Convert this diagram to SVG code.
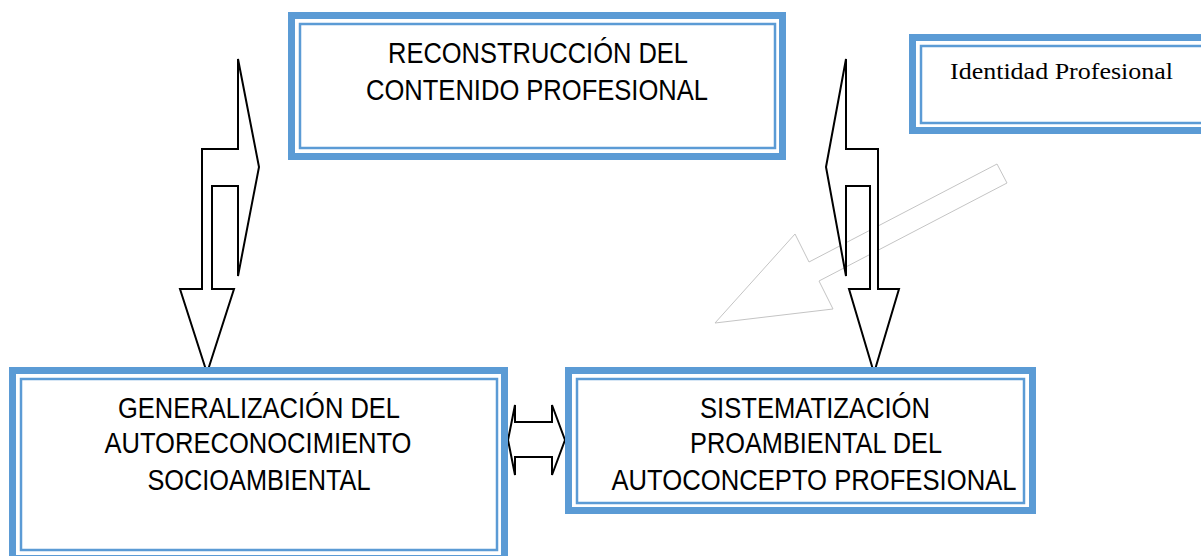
<svg xmlns="http://www.w3.org/2000/svg" width="1201" height="556" viewBox="0 0 1201 556">
<style>
.outer{fill:#fff;stroke:#5b9bd5;stroke-width:7}
.inner{fill:none;stroke:#5b9bd5;stroke-width:2.5}
.lbl{font-family:"Liberation Sans",Arial,sans-serif;font-size:29px;fill:#000;text-anchor:middle}
.serif{font-family:"Liberation Serif","Times New Roman",serif;font-size:23px;fill:#000}
.arr{fill:#fff;stroke:#000;stroke-width:2;stroke-linejoin:miter}
.garr{fill:none;stroke:#c4c4c4;stroke-width:1}
</style>
<rect width="1201" height="556" fill="#fff"/>
<g id="connectors">
<polygon class="garr" points="997,164 809,262 795,234 715,323 833,309 819,281 1007,183"/>
<polygon class="arr" points="238,59 238,149 202,149 202,289 180,289 207,373 234,289 212,289 212,186 238,186 238,276 259,167"/>
<polygon class="arr" points="846,59 846,149 878,149 878,289 899,289 874,373 849,289 870,289 870,186 846,186 846,276 826,167"/>
<polygon class="arr" points="508,440 515,405 515,422 552,422 552,405 565,440 552,475 552,457 515,457 515,475"/>
</g>
<g id="n-reconstruccion">
<rect class="outer" x="291.5" y="15.5" width="491" height="141"/>
<rect class="inner" x="300" y="24" width="475" height="124"/>
<text class="lbl" x="538" y="63" textLength="300" lengthAdjust="spacingAndGlyphs">RECONSTRUCCIÓN DEL</text>
<text class="lbl" x="537" y="100" textLength="342" lengthAdjust="spacingAndGlyphs">CONTENIDO PROFESIONAL</text>
</g>
<g id="n-identidad">
<rect class="outer" x="912.5" y="37.5" width="300" height="93"/>
<rect class="inner" x="921" y="46" width="290" height="77"/>
<text class="serif" x="950" y="79" textLength="223" lengthAdjust="spacingAndGlyphs">Identidad Profesional</text>
</g>
<g id="n-generalizacion">
<rect class="outer" x="12.5" y="370.5" width="492" height="188"/>
<rect class="inner" x="21" y="379" width="476" height="171"/>
<text class="lbl" x="259" y="418" textLength="282" lengthAdjust="spacingAndGlyphs">GENERALIZACIÓN DEL</text>
<text class="lbl" x="258" y="453" textLength="307" lengthAdjust="spacingAndGlyphs">AUTORECONOCIMIENTO</text>
<text class="lbl" x="259" y="490" textLength="223" lengthAdjust="spacingAndGlyphs">SOCIOAMBIENTAL</text>
</g>
<g id="n-sistematizacion">
<rect class="outer" x="568.5" y="370.5" width="464" height="140"/>
<rect class="inner" x="577" y="379" width="447" height="124"/>
<text class="lbl" x="815" y="418" textLength="230" lengthAdjust="spacingAndGlyphs">SISTEMATIZACIÓN</text>
<text class="lbl" x="816" y="453" textLength="252" lengthAdjust="spacingAndGlyphs">PROAMBIENTAL DEL</text>
<text class="lbl" x="814" y="490" textLength="405" lengthAdjust="spacingAndGlyphs">AUTOCONCEPTO PROFESIONAL</text>
</g>
</svg>
